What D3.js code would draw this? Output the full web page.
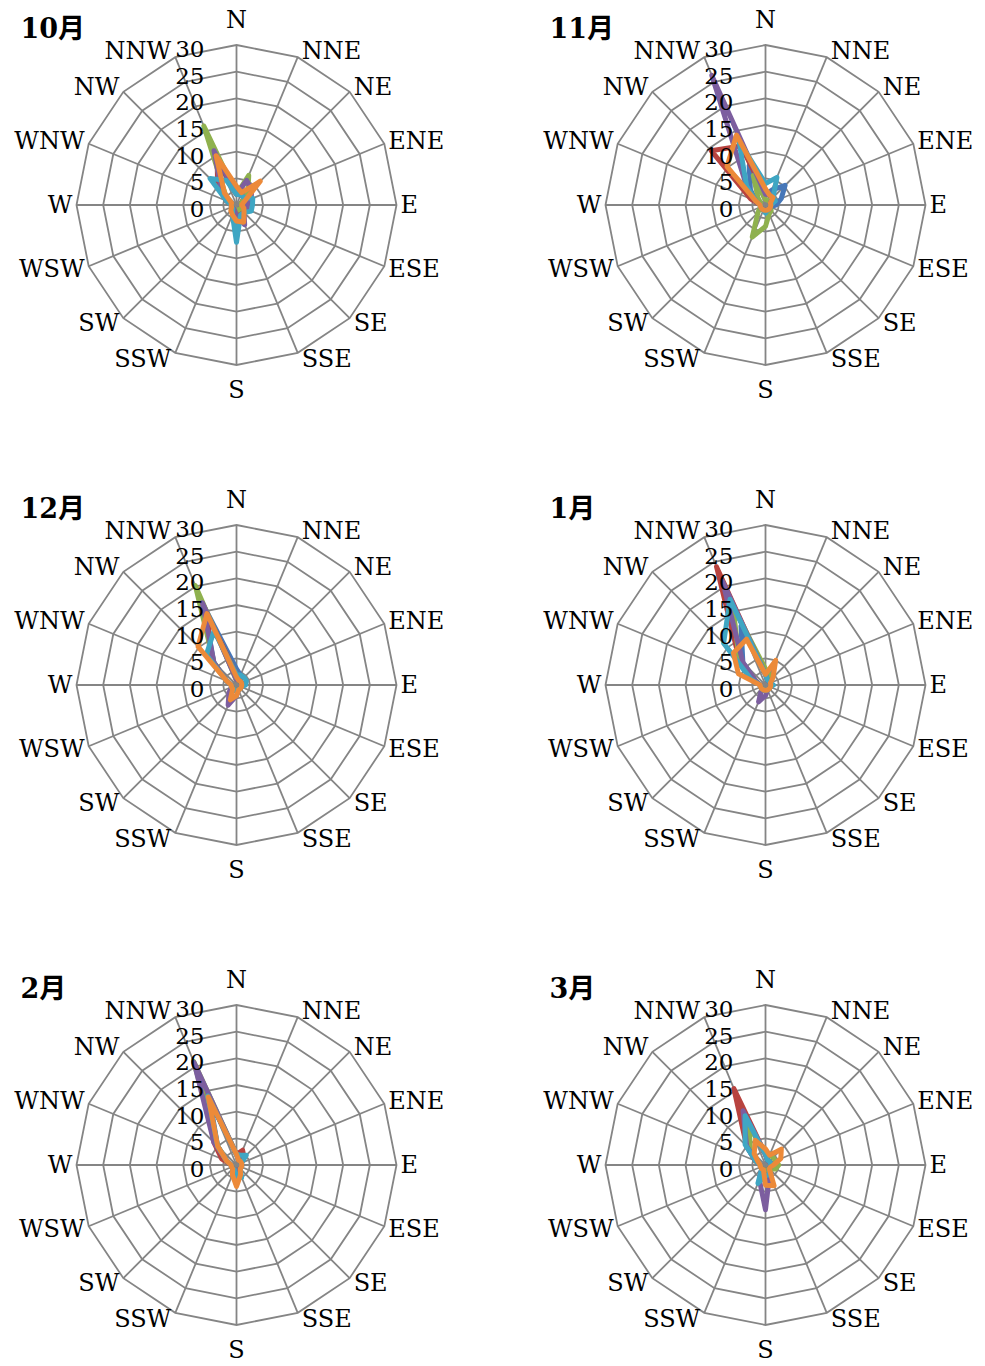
<!DOCTYPE html>
<html>
<head>
<meta charset="utf-8">
<script src="https://cdn.jsdelivr.net/npm/d3@7"></script>
<style>
body { margin: 0; background: #fff; }
text { font-family: "DejaVu Serif", "Liberation Serif", serif; fill: #000; }
</style>
</head>
<body>
<svg id="chart" width="985" height="1366"></svg>
<script>
// compass points, clockwise from north
const directions = ["N", "NNE", "NE", "ENE", "E", "ESE", "SE", "SSE",
    "S", "SSW", "SW", "WSW", "W", "WNW", "NW", "NNW"];
const months = ["10月", "11月", "12月", "1月", "2月", "3月"];
const tickValues = [0, 5, 10, 15, 20, 25, 30];

// six series per month, values per direction (N .. NNW)
const octData = [
    [2, 3, 2, 2, 1, 1, 1, 2, 2, 1, 1, 1, 1, 2, 4, 8],
    [2, 2, 2, 1, 1, 1, 1, 2, 2, 1, 1, 1, 1, 2, 5, 9.5],
    [2, 6, 3, 1, 1, 1, 1, 1, 1, 1, 1, 1, 1, 2, 3, 16],
    [2, 5, 4, 3, 2, 2, 2, 4, 2, 1, 1, 1, 1, 2, 4, 11],
    [2, 2, 2, 3.3, 3, 3, 2, 2, 7, 2, 1, 1, 1, 2, 7, 5],
    [3.5, 2.5, 6.3, 1.5, 1, 1.5, 2, 3.5, 3, 2, 1.5, 1, 1, 1, 3.2, 10]
];
const novData = [
    [2, 3, 5.2, 3.2, 2, 1, 1, 1, 1, 1, 1, 1, 1, 2, 4, 8],
    [2, 2, 2, 1, 1, 1, 1, 1, 1, 1, 1, 1, 1, 3, 14.4, 12],
    [1, 1, 1, 1, 1, 1, 1.5, 1.8, 4, 6.5, 2, 1, 1, 1, 2, 6],
    [2, 2, 2, 1, 1, 1, 1, 1, 1, 1, 1, 1, 1, 2, 5, 26.3],
    [4, 5.6, 2, 2, 1, 1, 1, 1, 1.5, 1, 1, 1, 1, 2, 5, 13],
    [3, 2, 2, 1, 1, 1, 1, 1, 1, 1, 1, 1, 1, 2, 10.2, 14.2]
];
const decData = [
    [3, 2, 1, 1, 1, 1, 1, 1, 1, 1, 1, 1, 1, 2, 6, 16],
    [2, 1, 1, 1, 1, 1, 1, 1, 1, 1, 1, 1, 1, 2, 7, 14],
    [1, 1, 1, 1, 1, 1, 1, 1, 1, 1, 1, 1, 1, 2, 6, 20.2],
    [1, 1, 1, 1, 1, 1, 1, 1, 2, 4.1, 2, 1, 1, 2, 6, 16.7],
    [2, 2, 2, 2, 1.7, 1, 1, 1, 1, 1, 1, 1, 1, 2, 8, 11],
    [1.5, 1, 1, 1, 1, 1, 1, 1, 2, 3, 1, 1, 1, 2, 10.2, 14.5]
];
const janData = [
    [2, 2, 1, 1, 1, 1, 1, 1, 1, 1, 1, 1, 1, 2, 6, 12],
    [2, 1, 1, 1, 1, 1, 1, 1, 1, 1, 1, 1, 1, 2, 7, 24],
    [3, 2, 1, 1, 1, 1, 1, 1, 1, 1, 1, 1, 1, 2, 7, 16],
    [2, 1, 1, 1, 1, 1, 1, 1, 2, 3.4, 1, 1, 1, 2, 6, 21],
    [2, 1, 1, 1, 1.5, 1, 1, 1, 1, 1, 1, 1, 1, 3, 11.1, 17.4],
    [2, 5, 2, 1, 1, 1, 1, 1, 1, 1, 1, 1, 1, 5.5, 8.5, 9.3]
];
const febData = [
    [2, 2, 1, 1, 1, 1, 1, 1, 1, 1, 1, 1, 1, 2, 5, 13],
    [2, 3, 2, 1, 1, 1, 1, 1, 1, 1, 1, 1, 1, 3, 6, 15],
    [2, 1, 1, 1, 1, 1, 1, 1, 1, 1, 1, 1, 1, 2, 5, 21],
    [2, 1, 1, 1, 1, 1, 1, 1, 1, 1, 1, 1, 1, 2, 6, 20.8],
    [2, 2, 2.6, 1, 1, 1, 1, 2.5, 2, 1, 1, 1, 1, 2, 5, 14],
    [2, 1, 1, 1, 1, 1, 1, 2, 4, 2, 1, 1, 1, 2, 5, 13.8]
];
const marData = [
    [2, 1, 1, 1, 1, 1, 1, 1, 2, 2, 1, 1, 1, 2, 5, 9],
    [2, 1, 1, 1, 1, 1, 1, 1, 1, 1, 1, 1, 1, 2, 5, 15.5],
    [2, 2, 2, 2, 2.5, 2, 1, 1, 1, 1, 1, 1, 1, 2, 4, 8],
    [2, 1, 1, 1, 1, 1, 1, 2, 8.4, 3, 1, 1, 1, 2, 5, 11],
    [2, 1, 1, 1, 1, 1, 1, 2, 2, 3.7, 1, 1, 1, 2, 5.4, 10],
    [3, 2, 4.2, 3.1, 1.5, 1, 1, 4.2, 3.8, 1, 1, 1, 1, 1.5, 3, 5]
];
const monthData = [octData, novData, decData, janData, febData, marData];

radar = {};
radar.colors = ["#4677B8", "#B8433F", "#8FB14E", "#7C5E9F", "#3FA6C3", "#EC8A39"];
radar.radius = 160;
radar.r = d3.scaleLinear().domain([0, 30]).range([0, radar.radius]);
radar.angle = d3.scaleLinear().domain([0, directions.length]).range([0, 2 * Math.PI]);
radar.svg = d3.select("#chart");

radar.line = d3.lineRadial()
    .angle((d, i) => radar.angle(i))
    .radius((d) => radar.r(d))
    .curve(d3.curveLinearClosed);

radar.draw = function(month, data, cx, cy) {
    var g = this.svg.append("g")
        .attr("transform", `translate(${cx}, ${cy})`);

    // web rings (plus the small inner one)
    var rings = [2.5].concat(tickValues.slice(1));
    g.selectAll(".ring")
        .data(rings)
        .enter()
        .append("path")
        .attr("d", (v) => this.line(directions.map(() => v)))
        .attr("fill", "none")
        .attr("stroke", "#858585")
        .attr("stroke-width", 1.8);

    // spokes
    g.selectAll(".spoke")
        .data(directions)
        .enter()
        .append("line")
        .attr("x2", (d, i) => this.radius * Math.sin(this.angle(i)))
        .attr("y2", (d, i) => -this.radius * Math.cos(this.angle(i)))
        .attr("stroke", "#858585")
        .attr("stroke-width", 1.8);

    // direction labels
    g.selectAll(".dir")
        .data(directions)
        .enter()
        .append("text")
        .attr("font-size", 24)
        .attr("dominant-baseline", "central")
        .attr("text-anchor", (d, i) => {
            var s = Math.sin(this.angle(i));
            return Math.abs(s) < 0.1 ? "middle" : (s > 0 ? "start" : "end");
        })
        .attr("x", (d, i) => {
            var s = Math.sin(this.angle(i));
            var x = this.radius * s;
            return Math.abs(s) < 0.1 ? x : x + (s > 0 ? 4 : -4);
        })
        .attr("y", (d, i) => {
            var s = Math.sin(this.angle(i)), c = Math.cos(this.angle(i));
            var y = -this.radius * c;
            if (Math.abs(s) < 0.1) return y + (c > 0 ? -25 : 25);
            return y - c * 7;
        })
        .text((d) => d);

    // series
    g.selectAll(".series")
        .data(data)
        .enter()
        .append("path")
        .attr("d", (d) => this.line(d))
        .attr("fill", "none")
        .attr("stroke", (d, i) => this.colors[i])
        .attr("stroke-width", 5)
        .attr("stroke-linejoin", "round");

    // radial tick labels
    g.selectAll(".tick")
        .data(tickValues)
        .enter()
        .append("text")
        .attr("font-size", 23)
        .attr("text-anchor", "end")
        .attr("dominant-baseline", "central")
        .attr("x", -32)
        .attr("y", (v) => -this.r(v) + 4)
        .text((v) => v);

    // month title
    g.append("text")
        .attr("x", -216)
        .attr("y", -177)
        .attr("font-size", 27)
        .attr("font-weight", "bold")
        .attr("dominant-baseline", "central")
        .style("font-family", "'DejaVu Serif', 'Noto Sans CJK JP', serif")
        .text(month);
};

months.forEach((m, i) => {
    var col = i % 2, row = Math.floor(i / 2);
    radar.draw(m, monthData[i], 236.5 + col * 529, 205 + row * 480);
});
</script>
</body>
</html>
